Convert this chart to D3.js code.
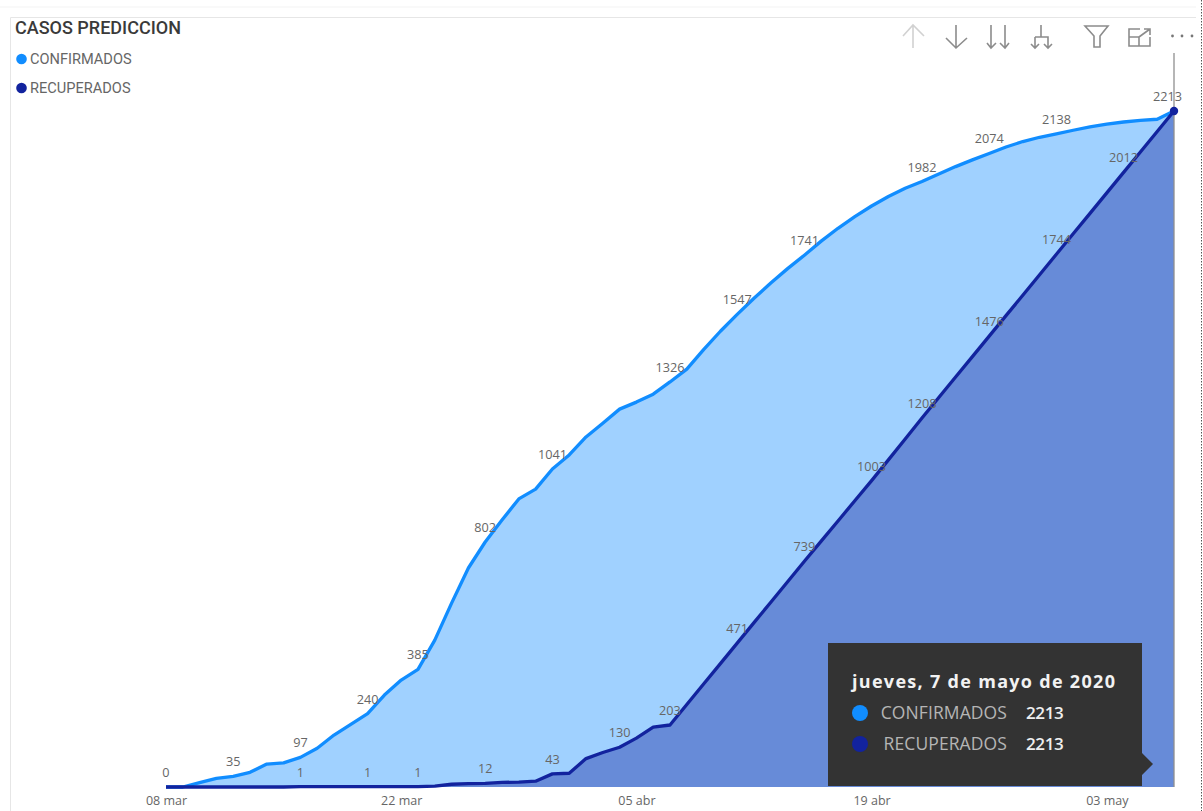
<!DOCTYPE html>
<html>
<head>
  <meta charset="utf-8">
  <style>
    html, body { margin: 0; padding: 0; background: #fff; overflow: hidden; }
    svg { display: block; }
    svg text { font-family: "Open Sans", sans-serif; }
    .etiqueta { font-size: 12.7px; fill: #666; text-anchor: middle; }
    .x-axis text { font-size: 12.5px; fill: #666; font-family: "Open Sans", sans-serif; }
    .icono { fill: none; stroke: #8c8c8c; stroke-width: 1.6px; }
  </style>
</head>
<body>
  <div id="chart"></div>
  <script src="https://d3js.org/d3.v7.min.js"></script>
  <script>
// daily values, 08 mar -> 07 may 2020
var confirmados = [
  0, 0, 14, 28, 35, 48, 75, 79, 97, 127,
  170, 205, 240, 301, 350, 385, 481, 602, 717, 802,
  874, 943, 975, 1041, 1087, 1146, 1191, 1237, 1260, 1286,
  1326, 1368, 1432, 1492, 1547, 1600, 1650, 1697, 1741, 1787,
  1829, 1867, 1902, 1933, 1960, 1982, 2007, 2031, 2053, 2074,
  2095, 2113, 2127, 2138, 2150, 2161, 2170, 2177, 2182, 2186,
  2213
];
var recuperados = [
  0, 0, 0, 0, 0, 0, 0, 0, 1, 1,
  1, 1, 1, 1, 1, 1, 3, 9, 11, 12,
  15, 16, 19, 43, 45, 93, 113, 130, 160, 196,
  203, 270, 337, 404, 471, 538, 605, 672, 739, 805,
  871, 937, 1003, 1071, 1139, 1208, 1275, 1342, 1409, 1476,
  1543, 1610, 1677, 1744, 1811, 1878, 1945, 2012, 2079, 2146,
  2213
];
// which days carry a data label
var diasEtiquetaConf = [0, 4, 8, 12, 15, 19, 23, 30, 34, 38, 45, 49, 53, 60];
var diasEtiquetaRec = [8, 12, 15, 19, 23, 27, 30, 34, 38, 42, 45, 49, 53, 57];
var tickDias = [0, 14, 28, 42, 56];
var tickLabels = ["08 mar", "22 mar", "05 abr", "19 abr", "03 may"];

(function () {
  var width = 1203, height = 811;
  var svg = d3.select("#chart").append("svg")
    .attr("width", width)
    .attr("height", height);

  var azul = "#118DFF", marino = "#12239E";
  var inicio = new Date(2020, 2, 8);
  function fecha(i) { return d3.timeDay.offset(inicio, i); }

  var xScale = d3.scaleTime().domain([fecha(0), fecha(60)]).range([166, 1174]);
  var yScale = d3.scaleLinear().domain([0, 2213]).range([787, 111]);

  // page and visual frame
  svg.append("line").attr("x1", 0).attr("x2", 1196).attr("y1", 7).attr("y2", 7)
    .style("stroke", "#f3f3f3");
  svg.append("path").attr("d", "M10.5,811V17.5H1196")
    .style("fill", "none").style("stroke", "#e6e6e6");
  svg.append("line").attr("x1", 1201.5).attr("x2", 1201.5).attr("y1", 0).attr("y2", 811)
    .style("stroke", "#555").style("stroke-dasharray", "1.5,1.5");

  var area = d3.area()
    .x(function (d, i) { return xScale(fecha(i)); })
    .y0(yScale(0))
    .y1(function (d) { return yScale(d); });
  var linea = d3.line()
    .x(function (d, i) { return xScale(fecha(i)); })
    .y(function (d) { return yScale(d); });

  svg.append("path").attr("d", area(confirmados)).style("fill", azul).style("fill-opacity", 0.4);
  svg.append("path").attr("d", area(recuperados)).style("fill", marino).style("fill-opacity", 0.4);

  // hover line
  svg.append("line")
    .attr("x1", xScale(fecha(60))).attr("x2", xScale(fecha(60)))
    .attr("y1", 53).attr("y2", yScale(0))
    .style("stroke", "#8f8f8f").style("stroke-width", 1.3);

  svg.append("path").attr("d", linea(confirmados))
    .style("fill", "none").style("stroke", azul).style("stroke-width", 3.3).style("stroke-linejoin", "round");
  svg.append("path").attr("d", linea(recuperados))
    .style("fill", "none").style("stroke", marino).style("stroke-width", 3.3).style("stroke-linejoin", "round");

  svg.append("circle").attr("cx", xScale(fecha(60))).attr("cy", yScale(2213)).attr("r", 4.2).style("fill", marino);

  // data labels
  function etiquetas(dias, serie) {
    svg.selectAll(null).data(dias).enter().append("text")
      .attr("class", "etiqueta")
      // the last label gets pushed in from the plot edge
      .attr("x", function (d) { return xScale(fecha(d)) - (d === 60 ? 6.5 : 0); })
      .attr("y", function (d) { return yScale(serie[d]) - 10; })
      .text(function (d) { return serie[d]; });
  }
  etiquetas(diasEtiquetaConf, confirmados);
  etiquetas(diasEtiquetaRec, recuperados);

  // x axis
  var xAxis = d3.axisBottom(xScale)
    .tickValues(tickDias.map(fecha))
    .tickFormat(function (d, i) { return tickLabels[i]; })
    .tickSize(0)
    .tickPadding(9);
  svg.append("g").attr("class", "x-axis")
    .attr("transform", "translate(0," + yScale(0) + ")")
    .call(xAxis)
    .call(function (g) { g.select(".domain").remove(); });

  // title and legend
  svg.append("text").attr("x", 15).attr("y", 34).text("CASOS PREDICCION")
    .style("font-family", "Roboto").style("font-size", "18px").style("font-weight", 500).style("fill", "#3a3a3a");
  var leyenda = [["CONFIRMADOS", azul, 59], ["RECUPERADOS", marino, 88]];
  leyenda.forEach(function (l) {
    svg.append("circle").attr("cx", 21.5).attr("cy", l[2]).attr("r", 5.3).style("fill", l[1]);
    svg.append("text").attr("x", 30).attr("y", l[2] + 5).text(l[0])
      .style("font-family", "Roboto").style("font-size", "14.6px").style("fill", "#666");
  });

  // header icons
  var iconos = [
    ["M913,25V48M903,36L913,25L924,36", 0.4],
    ["M956,25V48M946,38L956,48L967,38", 1],
    ["M991,25V48M987,43L991,48L996,43M1005,25V48M1000,43L1005,48L1009,43", 1],
    ["M1041,25V37M1035,37H1048V48M1035,37V48M1031,44L1035,48L1039,44M1044,44L1048,48L1052,44", 1],
    ["M1085,26H1108L1100,36V47H1094V36Z", 1],
    ["M1129,37V29H1140M1150,37V46H1139M1129,37H1139V46H1129ZM1139,37L1150,29M1144,29H1150V35", 1]
  ];
  iconos.forEach(function (d) {
    svg.append("path").attr("class", "icono").attr("d", d[0]).style("opacity", d[1]);
  });
  [1172.5, 1182, 1192].forEach(function (x) {
    svg.append("circle").attr("cx", x).attr("cy", 36).attr("r", 1.4).style("fill", "#777");
  });

  // tooltip
  var tip = svg.append("g");
  tip.append("path").attr("d", "M828,643H1142V753L1153,764L1142,775V786H828Z").style("fill", "#333");
  tip.append("text").attr("x", 852).attr("y", 688).text("jueves, 7 de mayo de 2020")
    .style("font-size", "18px").style("font-weight", 700).style("letter-spacing", "1.3px").style("fill", "#f2f2f2");
  var filas = [["CONFIRMADOS", azul, 2213, 713], ["RECUPERADOS", marino, 2213, 744]];
  filas.forEach(function (f) {
    tip.append("circle").attr("cx", 860).attr("cy", f[3]).attr("r", 8).style("fill", f[1]);
    tip.append("text").attr("x", 1007).attr("y", f[3] + 6).text(f[0])
      .style("text-anchor", "end").style("font-size", "17.5px").style("letter-spacing", "0.1px").style("fill", "#b5b5b5");
    tip.append("text").attr("x", 1026).attr("y", f[3] + 6).text(f[2])
      .style("font-size", "17px").style("font-weight", 600).style("letter-spacing", "-0.4px").style("fill", "#eee");
  });
})();
  </script>
</body>
</html>
